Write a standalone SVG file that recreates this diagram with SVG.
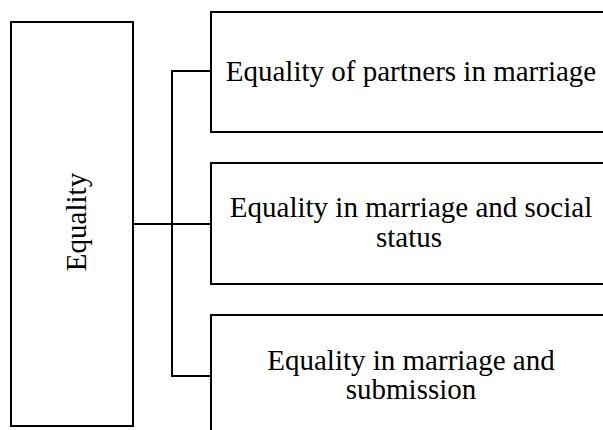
<svg xmlns="http://www.w3.org/2000/svg" width="603" height="430" viewBox="0 0 603 430">
<style>
.box{fill:#fff;stroke:#000;stroke-width:2}
.lbl{font-family:"Liberation Serif","Times New Roman",serif;font-size:29px;fill:#000;text-anchor:middle}
.conn{fill:none;stroke:#000;stroke-width:2}
</style>
<rect width="603" height="430" fill="#fff"/>
<g id="connectors">
<path class="conn" d="M133 224H211"/>
<path class="conn" d="M211 71H172V376H211"/>
</g>
<g id="equality">
<rect class="box" x="11" y="22" width="122" height="404"/>
<text class="lbl" transform="translate(86 222) rotate(-90)">Equality</text>
</g>
<g id="partners">
<rect class="box" x="211" y="12" width="400" height="120"/>
<text class="lbl" x="411" y="81">Equality of partners in marriage</text>
</g>
<g id="social">
<rect class="box" x="211" y="163" width="400" height="121"/>
<text class="lbl" x="411" y="217">Equality in marriage and social</text>
<text class="lbl" x="409" y="246.7">status</text>
</g>
<g id="submission">
<rect class="box" x="211" y="315" width="400" height="121"/>
<text class="lbl" x="411" y="369.5">Equality in marriage and</text>
<text class="lbl" x="411" y="399">submission</text>
</g>
</svg>
